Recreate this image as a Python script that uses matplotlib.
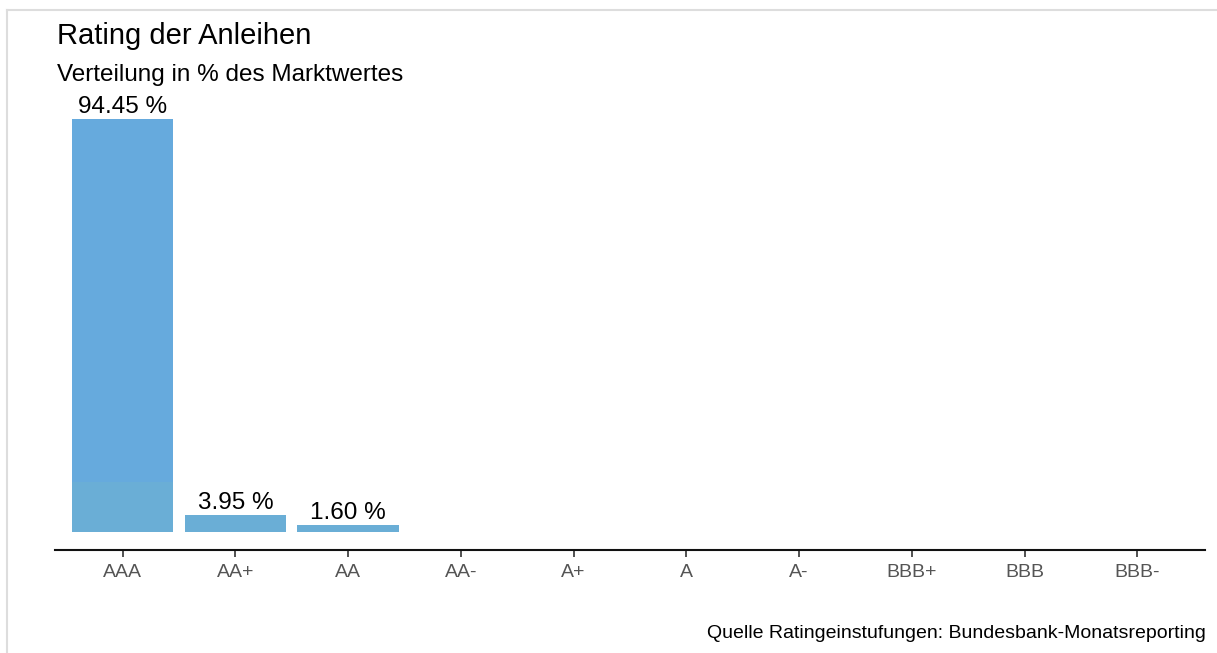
import numpy as np
import matplotlib
matplotlib.use("Agg")
import matplotlib.pyplot as plt
from matplotlib.lines import Line2D

plt.rcParams['font.family'] = ['Liberation Sans', 'DejaVu Sans']

# data
ratings = ["AAA", "AA+", "AA", "AA-", "A+", "A", "A-", "BBB+", "BBB", "BBB-"]
share = [94.45, 3.95, 1.60, 0, 0, 0, 0, 0, 0, 0]
# lower segment of the bars (slightly different shade in the original)
share_lower = [11.45, 3.95, 1.60, 0, 0, 0, 0, 0, 0, 0]

title = "Rating der Anleihen"
subtitle = "Verteilung in % des Marktwertes"
caption = "Quelle Ratingeinstufungen: Bundesbank-Monatsreporting"

fig = plt.figure(figsize=(12.17, 6.53), dpi=100)
ax = fig.add_axes([55/1217, 103/653, 1150/1217, 455/653])

x = np.arange(len(ratings))
upper = np.array(share) - np.array(share_lower)
ax.bar(x, share_lower, width=0.9, color="#6aaed6")
ax.bar(x, upper, bottom=share_lower, width=0.9, color="#66aadd")

for xi, v in zip(x, share):
    if v > 0:
        ax.text(xi, v + 0.3, f"{v:.2f} %", ha="center", va="bottom", fontsize=17.5, color="black")

ax.set_xlim(-0.6, len(ratings) - 0.4)
ax.set_ylim(-4.1, 100)
ax.set_xticks(x)
ax.set_xticklabels(ratings, fontsize=14, color="#555555")
ax.tick_params(axis="x", length=5, width=1.2, color="#333333", pad=5)
ax.set_yticks([])
for s in ["top", "right", "left"]:
    ax.spines[s].set_visible(False)
ax.spines["bottom"].set_linewidth(1.5)
ax.spines["bottom"].set_color("#111111")

fig.text(57/1217, 1 - 36/653, title, fontsize=21, ha="left", va="center")
fig.text(57/1217, 1 - 75/653, subtitle, fontsize=17.5, ha="left", va="center")
fig.text(1206/1217, 1 - 633/653, caption, fontsize=14, ha="right", va="center")

# light frame lines
fig.add_artist(Line2D([7/1217, 1], [1 - 10/653, 1 - 10/653], color="#dddddd", lw=1.5))
fig.add_artist(Line2D([7/1217, 7/1217], [0, 1 - 10/653], color="#dddddd", lw=1.5))

fig.savefig("out.png", dpi=100)
